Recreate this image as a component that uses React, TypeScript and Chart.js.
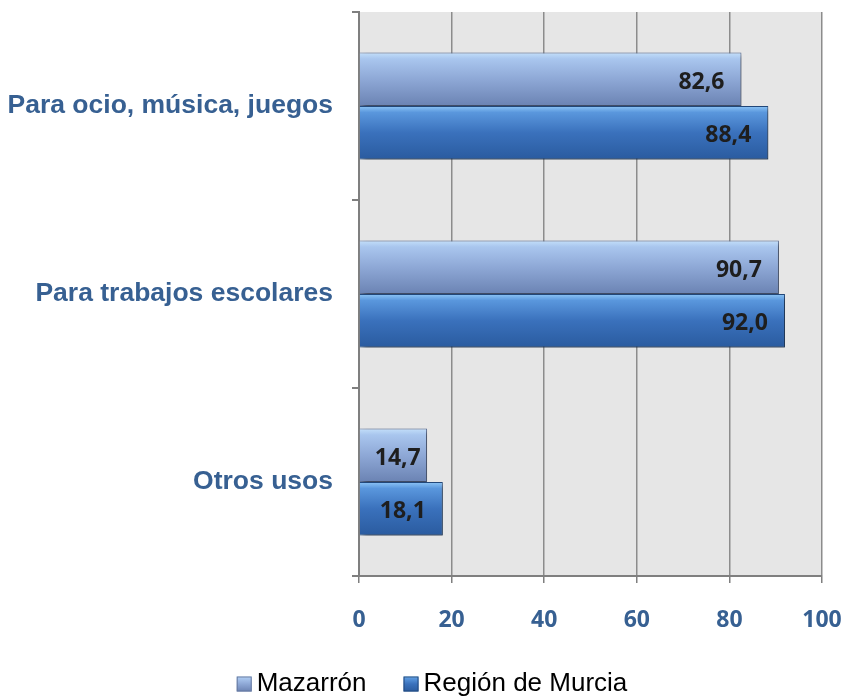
import React, { useEffect, useRef } from 'react';
import { Chart, registerables } from 'chart.js';

Chart.register(...registerables);

const categories = ['Para ocio, música, juegos', 'Para trabajos escolares', 'Otros usos'];
const seriesNames = ['Mazarrón', 'Región de Murcia'];
const mazarron = [82.6, 90.7, 14.7];
const murcia = [88.4, 92.0, 18.1];
const xMin = 0;
const xMax = 100;
const xStep = 20;

const CAT_PCT = 0.57;
const BLUE_TEXT = '#376092';

const gradStops = [
  [[0, '#C4E0FA'], [0.12, '#A9C6EE'], [0.5, '#8EA8D6'], [1, '#6B83B3']],
  [[0, '#8EC6F6'], [0.12, '#5A97DD'], [0.5, '#3A71BC'], [1, '#2A5B9F']],
];
const borderCols = ['#66799F', '#234A7E'];

function barGradient(c: any) {
  const chart = c.chart;
  const ds = c.datasetIndex ?? 0;
  const fallback = gradStops[ds][2][1] as string;
  if (!chart.chartArea || c.type !== 'data') return fallback;
  const y = chart.scales.y;
  if (!y) return fallback;
  const center = y.getPixelForValue(c.dataIndex);
  const catH = y.height / categories.length;
  const barH = (catH * CAT_PCT) / 2;
  const top = ds === 0 ? center - barH : center;
  const g = chart.ctx.createLinearGradient(0, top, 0, top + barH);
  for (const [o, col] of gradStops[ds]) g.addColorStop(o as number, col as string);
  return g;
}

const bgPlugin = {
  id: 'plotBg',
  beforeDraw(chart: any) {
    const { ctx, chartArea: a } = chart;
    ctx.save();
    ctx.fillStyle = '#E6E6E6';
    ctx.fillRect(a.left, a.top, a.right - a.left, a.bottom - a.top);
    ctx.restore();
  },
};

const shadowPlugin = {
  id: 'barShadow',
  beforeDatasetsDraw(chart: any) {
    const ctx = chart.ctx;
    ctx.save();
    ctx.shadowColor = 'rgba(0,0,0,0.45)';
    ctx.shadowBlur = 5;
    ctx.shadowOffsetX = 3;
    ctx.shadowOffsetY = 3;
  },
  afterDatasetsDraw(chart: any) {
    chart.ctx.restore();
  },
};

const labelPlugin = {
  id: 'valueLabels',
  afterDatasetsDraw(chart: any) {
    const ctx = chart.ctx;
    ctx.save();
    ctx.font = 'bold 23px "Open Sans"';
    ctx.fillStyle = '#1E1E1E';
    ctx.textAlign = 'right';
    ctx.textBaseline = 'middle';
    chart.data.datasets.forEach((ds: any, di: number) => {
      const meta = chart.getDatasetMeta(di);
      meta.data.forEach((el: any, i: number) => {
        const v = ds.data[i] as number;
        const txt = v.toFixed(1).replace('.', ',');
        const w = ctx.measureText(txt).width;
        const x = Math.max(el.x - 17, el.base + 15 + w);
        ctx.fillText(txt, x, el.y + 3);
      });
    });
    ctx.restore();
  },
};

const legendPlugin = {
  id: 'customLegend',
  afterDraw(chart: any) {
    const ctx = chart.ctx;
    ctx.save();
    ctx.font = '26px "Liberation Sans", Arial';
    ctx.textBaseline = 'middle';
    ctx.textAlign = 'left';
    const box = 15;
    const gap = 5;
    const spacing = 37;
    const widths = seriesNames.map((n) => ctx.measureText(n).width);
    const total = widths.reduce((s, w) => s + w + box + gap, 0) + spacing * (seriesNames.length - 1);
    let x = 432 - total / 2;
    const cy = 684;
    seriesNames.forEach((n, i) => {
      const g = ctx.createLinearGradient(0, cy - box / 2, 0, cy + box / 2);
      for (const [o, col] of gradStops[i]) g.addColorStop(o as number, col as string);
      ctx.fillStyle = g;
      ctx.fillRect(x, cy - box / 2, box, box);
      ctx.strokeStyle = borderCols[i];
      ctx.lineWidth = 1;
      ctx.strokeRect(x + 0.5, cy - box / 2 + 0.5, box - 1, box - 1);
      ctx.fillStyle = '#000000';
      ctx.fillText(n, x + box + gap, cy);
      x += box + gap + widths[i] + spacing;
    });
    ctx.restore();
  },
};

export default function App() {
  const ref = useRef<HTMLCanvasElement>(null);
  useEffect(() => {
    if (!ref.current) return;
    const chart = new Chart(ref.current, {
      type: 'bar',
      data: {
        labels: categories,
        datasets: [
          {
            label: seriesNames[0],
            data: mazarron,
            backgroundColor: barGradient,
            borderColor: borderCols[0],
            borderWidth: 1,
            categoryPercentage: CAT_PCT,
            barPercentage: 1,
          },
          {
            label: seriesNames[1],
            data: murcia,
            backgroundColor: barGradient,
            borderColor: borderCols[1],
            borderWidth: 1,
            categoryPercentage: CAT_PCT,
            barPercentage: 1,
          },
        ],
      },
      options: {
        indexAxis: 'y',
        animation: false,
        responsive: true,
        maintainAspectRatio: false,
        layout: { padding: { top: 12, right: 26, bottom: 0, left: 0 } },
        plugins: { legend: { display: false }, tooltip: { enabled: false } },
        scales: {
          x: {
            min: xMin,
            max: xMax,
            ticks: {
              stepSize: xStep,
              color: BLUE_TEXT,
              font: { family: '"Open Sans"', weight: 'bold', size: 23 },
              padding: 24,
            },
            grid: { color: '#8C8C8C', lineWidth: 1.5, tickLength: 7, tickColor: '#7F7F7F' },
            border: { color: '#7F7F7F', width: 2 },
            afterFit: (s: any) => {
              s.height = 122;
              s.paddingLeft = 0;
              s.paddingRight = 0;
            },
          },
          y: {
            ticks: {
              color: BLUE_TEXT,
              font: { family: '"Liberation Sans", Arial', weight: 'bold', size: 26.5 },
              padding: 19,
            },
            grid: { drawOnChartArea: false, tickLength: 7, color: '#7F7F7F', lineWidth: 2 },
            border: { color: '#7F7F7F', width: 2 },
            afterFit: (s: any) => {
              s.width = 359;
              s.paddingTop = 0;
              s.paddingBottom = 0;
            },
          },
        },
      },
      plugins: [bgPlugin, shadowPlugin, labelPlugin, legendPlugin],
    });
    return () => chart.destroy();
  }, []);
  return (
    <div style={{ position: 'fixed', left: 0, top: 0, width: 848, height: 698, background: '#fff' }}>
      <canvas ref={ref} />
    </div>
  );
}
